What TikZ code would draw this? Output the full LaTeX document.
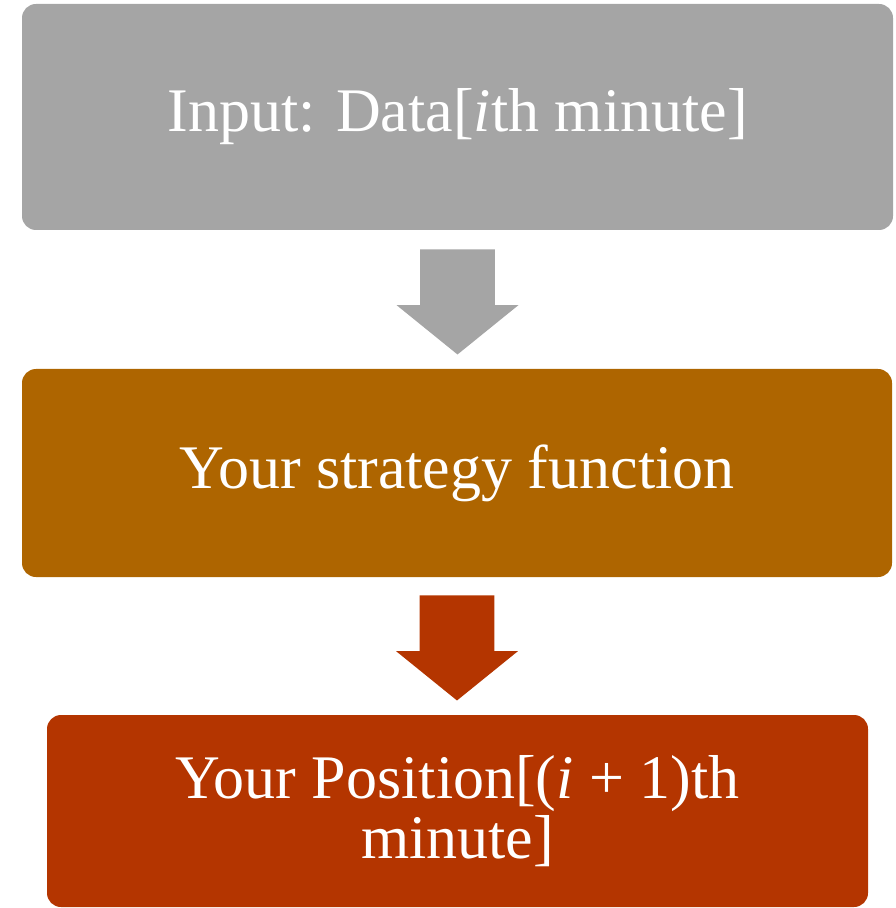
\documentclass[tikz,border=0pt]{standalone}
\usepackage{fontspec}
\setmainfont{Liberation Serif}
\usetikzlibrary{shapes.arrows,calc}
\definecolor{boxgray}{HTML}{A5A5A5}
\definecolor{boxbrown}{HTML}{AE6500}
\definecolor{boxred}{HTML}{B43500}

\begin{document}
\begin{tikzpicture}[x=0.5pt,y=-0.5pt,
  stage/.style={rectangle,rounded corners=7pt,inner sep=0pt,text=white,
    align=center,font=\fontsize{31}{30}\selectfont},
  downarrow/.style={single arrow,shape border rotate=270,inner sep=18.5pt,
    minimum height=49pt,single arrow head extend=11.75pt,
    single arrow tip angle=102,outer sep=0pt,anchor=tail}]
\useasboundingbox (0,0) rectangle (895,908);

\node[stage,fill=boxgray,minimum width=435.5pt,minimum height=113pt] (input) at (457.5,117) {Input: Data[\textit{i}th minute]};
\node[stage,fill=boxbrown,minimum width=435pt,minimum height=104pt] (strategy) at (457,473) {Your strategy function};
\node[stage,fill=boxred,minimum width=410.5pt,minimum height=96pt] (position) at (457.5,811) {Your Position[(\textit{i} + 1)th\\minute]};

% block arrows, tail just under each box
\node[downarrow,fill=boxgray] (arrA) at ($(input.south)+(0,19)$) {};
\node[downarrow,fill=boxred] (arrB) at ($(strategy.south)+(0,18)$) {};
\end{tikzpicture}
\end{document}
